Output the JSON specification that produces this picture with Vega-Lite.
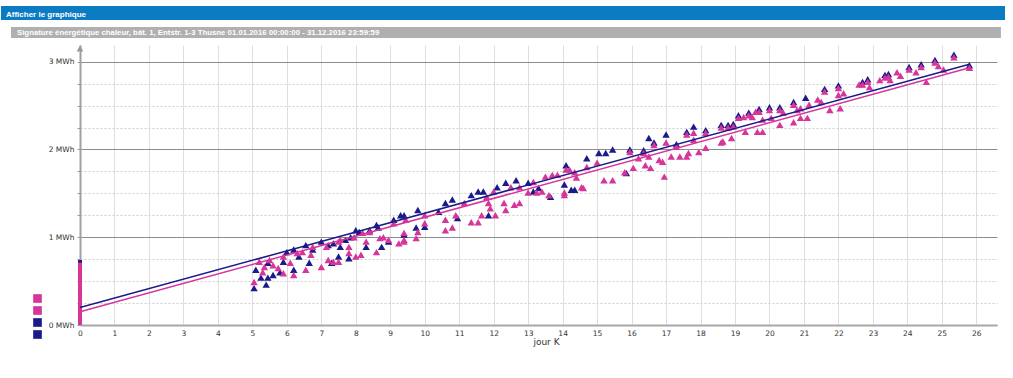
{
  "$schema": "https://vega.github.io/schema/vega-lite/v6.json",
  "background": "white",
  "padding": {"left": 0, "top": 6, "right": 0, "bottom": 0},
  "spacing": 7,
  "config": {"font": "DejaVu Sans", "view": {"stroke": null}},
  "datasets": {
    "points": [
      {"k":5.05,"e":0.42,"c":"B pts"},{"k":5.1,"e":0.63,"c":"B pts"},{"k":5.25,"e":0.54,"c":"B pts"},{"k":5.4,"e":0.46,"c":"B pts"},{"k":5.45,"e":0.71,"c":"B pts"},{"k":5.6,"e":0.57,"c":"B pts"},{"k":5.45,"e":0.54,"c":"B pts"},{"k":5.8,"e":0.6,"c":"B pts"},{"k":5.9,"e":0.72,"c":"B pts"},{"k":6.0,"e":0.83,"c":"B pts"},{"k":6.2,"e":0.63,"c":"B pts"},{"k":6.2,"e":0.86,"c":"B pts"},{"k":6.35,"e":0.78,"c":"B pts"},{"k":6.55,"e":0.91,"c":"B pts"},{"k":6.65,"e":0.71,"c":"B pts"},{"k":6.75,"e":0.86,"c":"B pts"},{"k":7.0,"e":0.95,"c":"B pts"},{"k":7.2,"e":0.91,"c":"B pts"},{"k":7.3,"e":0.71,"c":"B pts"},{"k":7.35,"e":0.93,"c":"B pts"},{"k":7.5,"e":0.78,"c":"B pts"},{"k":7.55,"e":0.89,"c":"B pts"},{"k":7.7,"e":0.97,"c":"B pts"},{"k":7.8,"e":0.76,"c":"B pts"},{"k":7.85,"e":1.0,"c":"B pts"},{"k":8.0,"e":1.08,"c":"B pts"},{"k":8.1,"e":1.06,"c":"B pts"},{"k":8.3,"e":0.89,"c":"B pts"},{"k":8.4,"e":1.08,"c":"B pts"},{"k":8.6,"e":1.14,"c":"B pts"},{"k":8.65,"e":1.11,"c":"B pts"},{"k":8.75,"e":0.89,"c":"B pts"},{"k":8.95,"e":0.95,"c":"B pts"},{"k":9.3,"e":1.25,"c":"B pts"},{"k":9.4,"e":1.25,"c":"B pts"},{"k":9.1,"e":1.2,"c":"B pts"},
      {"k":9.4,"e":1.03,"c":"B pts"},{"k":9.75,"e":1.11,"c":"B pts"},{"k":9.8,"e":1.31,"c":"B pts"},{"k":10.0,"e":1.12,"c":"B pts"},{"k":10.4,"e":1.29,"c":"B pts"},{"k":10.6,"e":1.39,"c":"B pts"},{"k":10.8,"e":1.43,"c":"B pts"},{"k":10.95,"e":1.22,"c":"B pts"},{"k":11.35,"e":1.48,"c":"B pts"},{"k":11.55,"e":1.52,"c":"B pts"},{"k":11.7,"e":1.52,"c":"B pts"},{"k":11.85,"e":1.25,"c":"B pts"},{"k":12.1,"e":1.57,"c":"B pts"},{"k":12.35,"e":1.62,"c":"B pts"},{"k":12.65,"e":1.65,"c":"B pts"},{"k":13.0,"e":1.62,"c":"B pts"},{"k":13.15,"e":1.52,"c":"B pts"},{"k":13.3,"e":1.56,"c":"B pts"},{"k":13.65,"e":1.46,"c":"B pts"},{"k":14.1,"e":1.82,"c":"B pts"},{"k":14.05,"e":1.6,"c":"B pts"},
      {"k":14.25,"e":1.54,"c":"B pts"},{"k":14.35,"e":1.54,"c":"B pts"},{"k":14.7,"e":1.9,"c":"B pts"},{"k":15.05,"e":1.96,"c":"B pts"},{"k":15.25,"e":1.96,"c":"B pts"},{"k":15.45,"e":2.0,"c":"B pts"},{"k":15.85,"e":1.73,"c":"B pts"},{"k":16.5,"e":2.13,"c":"B pts"},{"k":17.0,"e":2.17,"c":"B pts"},{"k":17.8,"e":2.26,"c":"B pts"},
      {"k":15.95,"e":2.0,"c":"B pts"},{"k":16.35,"e":1.99,"c":"B pts"},{"k":16.65,"e":2.08,"c":"B pts"},{"k":17.3,"e":2.06,"c":"B pts"},{"k":17.6,"e":2.2,"c":"B pts"},{"k":18.15,"e":2.22,"c":"B pts"},{"k":18.6,"e":2.28,"c":"B pts"},{"k":18.8,"e":2.28,"c":"B pts"},{"k":18.95,"e":2.29,"c":"B pts"},{"k":19.1,"e":2.39,"c":"B pts"},{"k":19.4,"e":2.42,"c":"B pts"},{"k":19.7,"e":2.46,"c":"B pts"},{"k":20.0,"e":2.48,"c":"B pts"},{"k":20.3,"e":2.48,"c":"B pts"},{"k":20.7,"e":2.54,"c":"B pts"},{"k":21.05,"e":2.59,"c":"B pts"},{"k":21.6,"e":2.69,"c":"B pts"},{"k":22.0,"e":2.73,"c":"B pts"},{"k":22.7,"e":2.77,"c":"B pts"},{"k":22.85,"e":2.8,"c":"B pts"},{"k":23.35,"e":2.85,"c":"B pts"},{"k":23.45,"e":2.86,"c":"B pts"},{"k":24.05,"e":2.94,"c":"B pts"},{"k":24.4,"e":2.97,"c":"B pts"},{"k":24.8,"e":3.02,"c":"B pts"},{"k":25.35,"e":3.08,"c":"B pts"},{"k":25.8,"e":2.96,"c":"B pts"},
      {"k":5.05,"e":0.49,"c":"A pts"},{"k":5.2,"e":0.72,"c":"A pts"},{"k":5.3,"e":0.6,"c":"A pts"},{"k":5.35,"e":0.66,"c":"A pts"},{"k":5.5,"e":0.74,"c":"A pts"},{"k":5.6,"e":0.68,"c":"A pts"},{"k":5.75,"e":0.65,"c":"A pts"},{"k":5.9,"e":0.59,"c":"A pts"},{"k":5.9,"e":0.78,"c":"A pts"},{"k":6.1,"e":0.71,"c":"A pts"},{"k":6.2,"e":0.57,"c":"A pts"},{"k":6.3,"e":0.82,"c":"A pts"},{"k":6.45,"e":0.83,"c":"A pts"},{"k":6.55,"e":0.63,"c":"A pts"},{"k":6.7,"e":0.8,"c":"A pts"},{"k":6.75,"e":0.89,"c":"A pts"},{"k":7.0,"e":0.66,"c":"A pts"},{"k":7.15,"e":0.89,"c":"A pts"},{"k":7.2,"e":0.74,"c":"A pts"},{"k":7.35,"e":0.72,"c":"A pts"},{"k":7.5,"e":0.95,"c":"A pts"},{"k":7.5,"e":0.72,"c":"A pts"},{"k":7.55,"e":0.97,"c":"A pts"},{"k":7.8,"e":0.89,"c":"A pts"},{"k":7.8,"e":0.82,"c":"A pts"},{"k":7.95,"e":1.0,"c":"A pts"},{"k":8.0,"e":0.78,"c":"A pts"},{"k":8.15,"e":0.8,"c":"A pts"},{"k":8.2,"e":1.05,"c":"A pts"},{"k":8.3,"e":0.95,"c":"A pts"},{"k":8.4,"e":1.06,"c":"A pts"},{"k":8.6,"e":0.83,"c":"A pts"},{"k":8.7,"e":0.99,"c":"A pts"},{"k":8.8,"e":1.0,"c":"A pts"},{"k":8.95,"e":0.97,"c":"A pts"},{"k":9.1,"e":1.16,"c":"A pts"},{"k":9.4,"e":1.05,"c":"A pts"},{"k":9.4,"e":0.95,"c":"A pts"},{"k":9.25,"e":0.93,"c":"A pts"},
      {"k":9.45,"e":1.2,"c":"A pts"},{"k":9.4,"e":0.97,"c":"A pts"},{"k":9.75,"e":0.99,"c":"A pts"},{"k":9.8,"e":1.06,"c":"A pts"},{"k":10.0,"e":1.25,"c":"A pts"},{"k":10.0,"e":1.16,"c":"A pts"},{"k":10.6,"e":1.2,"c":"A pts"},{"k":10.6,"e":1.08,"c":"A pts"},{"k":10.8,"e":1.11,"c":"A pts"},{"k":10.9,"e":1.25,"c":"A pts"},{"k":11.15,"e":1.39,"c":"A pts"},{"k":11.35,"e":1.17,"c":"A pts"},{"k":11.55,"e":1.17,"c":"A pts"},{"k":11.65,"e":1.25,"c":"A pts"},{"k":11.8,"e":1.46,"c":"A pts"},{"k":11.9,"e":1.33,"c":"A pts"},{"k":11.85,"e":1.39,"c":"A pts"},{"k":12.05,"e":1.25,"c":"A pts"},{"k":12.0,"e":1.52,"c":"A pts"},{"k":12.3,"e":1.39,"c":"A pts"},{"k":12.35,"e":1.31,"c":"A pts"},{"k":12.5,"e":1.57,"c":"A pts"},{"k":12.75,"e":1.57,"c":"A pts"},{"k":12.6,"e":1.37,"c":"A pts"},{"k":12.75,"e":1.39,"c":"A pts"},{"k":13.0,"e":1.51,"c":"A pts"},{"k":13.15,"e":1.63,"c":"A pts"},{"k":13.25,"e":1.51,"c":"A pts"},{"k":13.4,"e":1.52,"c":"A pts"},{"k":13.5,"e":1.69,"c":"A pts"},{"k":13.6,"e":1.48,"c":"A pts"},{"k":13.7,"e":1.71,"c":"A pts"},{"k":13.85,"e":1.71,"c":"A pts"},{"k":14.05,"e":1.51,"c":"A pts"},{"k":14.2,"e":1.77,"c":"A pts"},
      {"k":14.1,"e":1.77,"c":"A pts"},{"k":14.05,"e":1.48,"c":"A pts"},{"k":14.35,"e":1.74,"c":"A pts"},{"k":14.4,"e":1.68,"c":"A pts"},{"k":14.55,"e":1.57,"c":"A pts"},{"k":14.7,"e":1.8,"c":"A pts"},{"k":14.6,"e":1.56,"c":"A pts"},{"k":15.0,"e":1.85,"c":"A pts"},{"k":15.2,"e":1.65,"c":"A pts"},{"k":15.45,"e":1.65,"c":"A pts"},{"k":15.8,"e":1.74,"c":"A pts"},{"k":15.95,"e":1.97,"c":"A pts"},{"k":16.05,"e":1.79,"c":"A pts"},{"k":16.2,"e":1.9,"c":"A pts"},{"k":16.35,"e":1.96,"c":"A pts"},{"k":16.4,"e":1.82,"c":"A pts"},{"k":16.5,"e":1.92,"c":"A pts"},{"k":16.55,"e":1.79,"c":"A pts"},{"k":16.65,"e":2.05,"c":"A pts"},{"k":16.8,"e":1.88,"c":"A pts"},{"k":16.9,"e":1.86,"c":"A pts"},{"k":16.95,"e":1.69,"c":"A pts"},{"k":17.0,"e":2.08,"c":"A pts"},{"k":17.15,"e":1.92,"c":"A pts"},{"k":17.3,"e":2.03,"c":"A pts"},{"k":17.4,"e":1.92,"c":"A pts"},{"k":17.6,"e":2.17,"c":"A pts"},{"k":17.6,"e":1.92,"c":"A pts"},{"k":17.65,"e":1.96,"c":"A pts"},{"k":17.8,"e":2.19,"c":"A pts"},{"k":17.8,"e":2.11,"c":"A pts"},{"k":17.95,"e":1.97,"c":"A pts"},{"k":18.15,"e":2.19,"c":"A pts"},{"k":18.15,"e":2.02,"c":"A pts"},{"k":18.6,"e":2.08,"c":"A pts"},{"k":18.6,"e":2.25,"c":"A pts"},{"k":18.8,"e":2.25,"c":"A pts"},
      {"k":18.65,"e":2.09,"c":"A pts"},{"k":18.9,"e":2.13,"c":"A pts"},{"k":18.95,"e":2.26,"c":"A pts"},{"k":19.1,"e":2.36,"c":"A pts"},{"k":19.3,"e":2.2,"c":"A pts"},{"k":19.25,"e":2.37,"c":"A pts"},{"k":19.4,"e":2.39,"c":"A pts"},{"k":19.5,"e":2.37,"c":"A pts"},{"k":19.6,"e":2.43,"c":"A pts"},{"k":19.7,"e":2.43,"c":"A pts"},{"k":19.65,"e":2.2,"c":"A pts"},{"k":19.8,"e":2.2,"c":"A pts"},{"k":19.8,"e":2.34,"c":"A pts"},{"k":20.0,"e":2.45,"c":"A pts"},{"k":20.05,"e":2.36,"c":"A pts"},{"k":20.3,"e":2.45,"c":"A pts"},{"k":20.3,"e":2.28,"c":"A pts"},{"k":20.4,"e":2.42,"c":"A pts"},{"k":20.7,"e":2.31,"c":"A pts"},{"k":20.7,"e":2.51,"c":"A pts"},{"k":20.8,"e":2.45,"c":"A pts"},{"k":20.9,"e":2.36,"c":"A pts"},{"k":20.9,"e":2.47,"c":"A pts"},{"k":21.1,"e":2.36,"c":"A pts"},{"k":21.15,"e":2.51,"c":"A pts"},{"k":21.4,"e":2.57,"c":"A pts"},{"k":21.5,"e":2.54,"c":"A pts"},{"k":21.6,"e":2.66,"c":"A pts"},{"k":21.75,"e":2.45,"c":"A pts"},{"k":22.0,"e":2.7,"c":"A pts"},{"k":22.0,"e":2.62,"c":"A pts"},{"k":22.05,"e":2.47,"c":"A pts"},{"k":22.15,"e":2.64,"c":"A pts"},{"k":22.6,"e":2.74,"c":"A pts"},{"k":22.7,"e":2.74,"c":"A pts"},{"k":22.85,"e":2.77,"c":"A pts"},{"k":22.9,"e":2.71,"c":"A pts"},{"k":23.2,"e":2.79,"c":"A pts"},{"k":23.35,"e":2.82,"c":"A pts"},{"k":23.45,"e":2.83,"c":"A pts"},
      {"k":23.5,"e":2.79,"c":"A pts"},{"k":23.7,"e":2.88,"c":"A pts"},{"k":23.8,"e":2.84,"c":"A pts"},{"k":24.05,"e":2.91,"c":"A pts"},{"k":24.25,"e":2.88,"c":"A pts"},{"k":24.4,"e":2.94,"c":"A pts"},{"k":24.55,"e":2.77,"c":"A pts"},{"k":24.8,"e":2.99,"c":"A pts"},{"k":24.9,"e":2.95,"c":"A pts"},{"k":25.05,"e":2.91,"c":"A pts"},{"k":25.35,"e":3.05,"c":"A pts"},{"k":25.8,"e":2.93,"c":"A pts"}
    ],
    "lines": [
      {"k":0,"e":0.15,"c":"A reg"},{"k":25.8,"e":2.93,"c":"A reg"},
      {"k":0,"e":0.2,"c":"B reg"},{"k":25.8,"e":2.97,"c":"B reg"}
    ],
    "stripe": [
      {"k":0,"e":0.62,"e2":0.74,"c":"B pts"},
      {"k":0,"e":0,"e2":0.71,"c":"A pts"}
    ],
    "arrow": [{"k":0,"e":3.15}]
  },
  "vconcat": [
    {
      "width": 925,
      "height": 14,
      "title": {"text": "Afficher le graphique", "anchor": "start", "frame": "group", "offset": -10, "dx": -74, "dy": 9, "baseline": "alphabetic", "color": "white", "fontSize": 8, "fontWeight": "bold", "font": "Liberation Sans"},
      "data": {"values": [{"v": 0}]},
      "mark": {"type": "rect", "color": "#0b7bc2", "clip": false},
      "encoding": {
        "x": {"datum": 0, "type": "quantitative", "scale": {"domain": [0.078, 0.991], "nice": false, "zero": false}, "axis": null},
        "x2": {"datum": 0.991}
      }
    },
    {
      "width": 925,
      "height": 11,
      "title": {"text": "Signature énergétique chaleur, bât. 1, Entstr. 1-3 Thusne 01.01.2016 00:00:00 - 31.12.2016 23:59:59", "anchor": "start", "frame": "group", "offset": -8, "dx": -63, "dy": 8, "baseline": "alphabetic", "color": "white", "fontSize": 7.8, "fontWeight": "bold", "font": "Liberation Sans"},
      "data": {"values": [{"v": 0}]},
      "mark": {"type": "rect", "color": "#b0b0b0", "clip": false},
      "encoding": {
        "x": {"datum": 0.0099, "type": "quantitative", "scale": {"domain": [0.078, 0.991], "nice": false, "zero": false}, "axis": null},
        "x2": {"datum": 0.987}
      }
    },
    {
      "width": 917,
      "height": 280,
      "encoding": {
        "x": {"field": "k", "type": "quantitative", "scale": {"domain": [0, 26.6], "nice": false, "zero": false},
          "title": "jour K",
          "axis": {"values": [0,1,2,3,4,5,6,7,8,9,10,11,12,13,14,15,16,17,18,19,20,21,22,23,24,25,26], "labelFontSize": 7.5, "labelColor": "#333", "labelOverlap": false, "ticks": false, "labelPadding": 4, "domainColor": "#a8a8a8", "domainWidth": 2, "grid": true, "gridColor": "#dedede", "titleFontSize": 9, "titleFontWeight": "normal", "titleColor": "#333", "titlePadding": 1, "labelFlush": false, "titleX": 466}},
        "y": {"field": "e", "type": "quantitative", "scale": {"domain": [0, 3.19], "nice": false},
          "title": null,
          "axis": {"values": [0,0.25,0.5,0.75,1,1.25,1.5,1.75,2,2.25,2.5,2.75,3], "labelExpr": "datum.value % 1 === 0 ? datum.value + '  MWh' : ''", "labelFontSize": 7.5, "labelColor": "#333", "labelOverlap": false, "tickSize": 3, "tickColor": "#999", "domainColor": "#a0a0a0", "domainWidth": 2, "grid": true,
            "gridColor": {"condition": {"test": "datum.value % 1 === 0", "value": "#8c8c8c"}, "value": "#cfcfcf"},
            "gridDash": {"condition": {"test": "datum.value % 1 === 0", "value": []}, "value": [2, 2]},
            "minExtent": 79, "maxExtent": 79, "labelPadding": 3}}
      },
      "layer": [
        {
          "data": {"name": "stripe"},
          "mark": {"type": "rule", "strokeWidth": 4},
          "encoding": {
            "y2": {"field": "e2"},
            "color": {"field": "c", "type": "nominal", "scale": {"domain": ["A pts", "A reg", "B pts", "B reg"], "range": ["#d6359a", "#d6359a", "#1a1a8a", "#1a1a8a"]},
              "legend": {"orient": "none", "legendX": -47, "legendY": 288, "title": null, "symbolType": "square", "symbolSize": 75, "labelExpr": "''", "labelFontSize": 8, "rowPadding": 3, "padding": 0, "symbolStrokeWidth": 0, "symbolOpacity": 1,
                "encode": {"symbols": {"update": {"fill": {"scale": "color", "field": "value"}, "fillOpacity": {"value": 1}, "strokeWidth": {"value": 0}}}}}}
          }
        },
        {
          "data": {"name": "points"},
          "mark": {"type": "point", "shape": "triangle-up", "filled": true, "size": 55, "opacity": 1},
          "encoding": {
            "color": {"field": "c", "type": "nominal"}
          }
        },
        {
          "data": {"name": "lines"},
          "mark": {"type": "line", "strokeWidth": 1.5},
          "encoding": {
            "color": {"field": "c", "type": "nominal"}
          }
        },
        {
          "data": {"name": "arrow"},
          "mark": {"type": "point", "shape": "triangle-up", "filled": true, "size": 45, "color": "#999999", "opacity": 1}
        }
      ]
    }
  ]
}
